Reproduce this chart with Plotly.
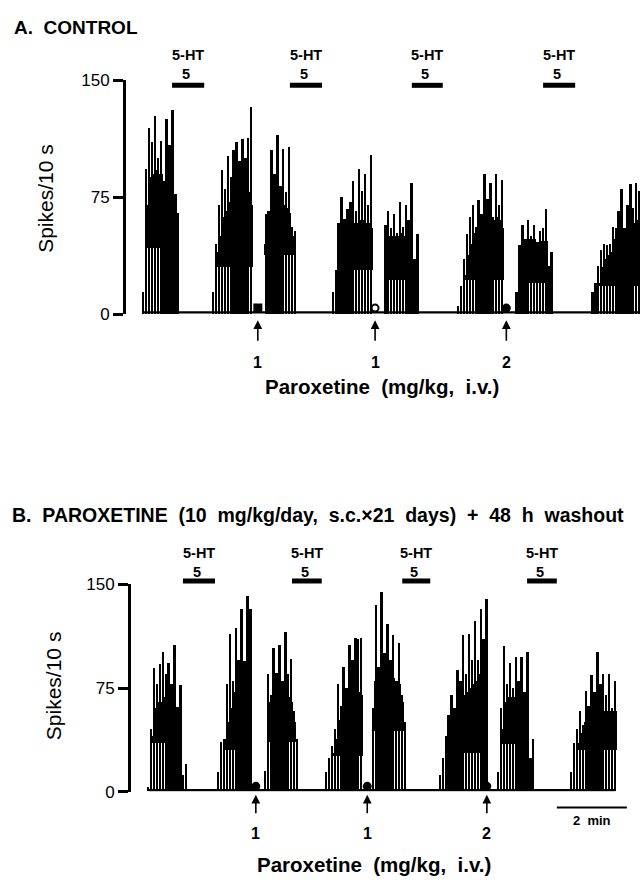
import plotly.graph_objects as go

W, H = 640, 887
BIN = 5  # seconds between successive ratemeter samples
FONT = "Liberation Sans, Arial, Helvetica, sans-serif"
INK = "#000000"

# ---------------- Panel A : CONTROL ----------------
A_starts = [30, 150, 240, 355, 445, 570, 670, 800]          # burst onset (s)
A_peaks = [
    [14, 93, 119, 110, 127, 100, 111, 85, 125, 108, 131, 77, 65],
    [14, 45, 70, 92, 80, 101, 88, 105, 110, 98, 112, 100, 113, 133],
    [64, 66, 105, 90, 115, 82, 106, 78, 107, 56, 53],
    [14, 28, 58, 75, 61, 67, 72, 85, 66, 93, 79, 90, 70, 102],
    [57, 66, 55, 64, 52, 72, 56, 70, 60, 84, 35, 51],
    [5, 18, 35, 51, 62, 70, 56, 73, 64, 90, 74, 84, 62, 90, 70, 86],
    [14, 44, 57, 45, 60, 50, 57, 46, 53, 55, 67, 31, 40],
    [14, 20, 31, 41, 45, 44, 45, 56, 55, 66, 80, 55, 70, 83, 68, 84, 79],
]
A_band_top = [
    [0, 70, 88, 90, 92, 88, 90, 85, 88, 85, 86, 70, 0],
    [0, 40, 50, 62, 66, 70, 72, 75, 75, 75, 78, 75, 78, 70],
    [45, 60, 70, 72, 72, 70, 70, 68, 65, 50, 0],
    [0, 0, 40, 50, 52, 55, 57, 58, 58, 60, 60, 58, 58, 55],
    [45, 50, 50, 50, 50, 52, 50, 50, 50, 50, 35, 0],
    [0, 0, 25, 38, 45, 50, 52, 55, 57, 60, 60, 62, 60, 62, 60, 55],
    [0, 35, 48, 48, 48, 48, 48, 46, 47, 47, 47, 30, 0],
    [0, 0, 20, 30, 35, 38, 40, 45, 48, 50, 55, 55, 55, 58, 58, 60, 60],
]
A_band_floor = [42, 30, 38, 28, 22, 22, 20, 18]
A_baseline_t = [30, 881]
A_5ht = [(79, 134), (281, 336), (490, 543), (715, 770)]
A_inj_t = [226, 427, 652]
A_inj_sym = ["square", "circle-open", "circle"]
A_dose = ["1", "1", "2"]

# ---------------- Panel B : PAROXETINE ----------------
B_starts = [30, 150, 230, 335, 415, 530, 630, 755]
B_peaks = [
    [3, 45, 89, 78, 92, 101, 85, 93, 78, 106, 61, 77, 12, 20],
    [14, 36, 38, 78, 114, 80, 118, 95, 132, 94, 141, 132],
    [15, 85, 70, 104, 86, 106, 80, 115, 85, 96, 58, 38],
    [14, 24, 33, 45, 78, 62, 90, 75, 106, 95, 111, 110, 111],
    [60, 135, 90, 144, 100, 121, 95, 113, 80, 107, 70, 50],
    [12, 24, 40, 55, 70, 60, 88, 80, 113, 85, 114, 95, 123, 95, 132, 110, 139],
    [14, 60, 105, 78, 93, 75, 97, 80, 97, 72, 101, 24, 38],
    [14, 35, 45, 58, 48, 73, 62, 84, 72, 101, 78, 85, 70, 85, 60, 80],
]
B_band_top = [
    [0, 40, 60, 65, 65, 68, 68, 68, 66, 65, 60, 55, 0, 0],
    [0, 0, 38, 50, 60, 65, 72, 78, 80, 82, 85, 85],
    [0, 60, 65, 72, 72, 72, 70, 70, 68, 65, 50, 0],
    [0, 0, 28, 38, 45, 52, 58, 62, 68, 70, 72, 72, 70],
    [50, 80, 85, 88, 88, 85, 85, 82, 80, 78, 65, 0],
    [0, 0, 28, 40, 50, 55, 60, 65, 70, 72, 75, 78, 80, 82, 85, 85, 85],
    [0, 45, 65, 68, 68, 68, 66, 66, 65, 65, 62, 0, 0],
    [0, 25, 35, 42, 45, 50, 52, 55, 55, 56, 56, 58, 58, 58, 58, 58],
]
B_band_floor = [35, 30, 36, 26, 44, 28, 34, 30]
B_baseline_t = [30, 830]
B_5ht = [(89, 144), (276, 327), (465, 513), (679, 730)]
B_inj_t = [214, 405, 610]
B_inj_sym = ["circle", "circle", "circle"]
B_dose = ["1", "1", "2"]
SCALE_BAR_T = (730, 850)   # 2 min

Y_TICKS = [0, 75, 150]

# ---- geometry (pixel layout of the reference) ----
A_axis_px, B_axis_px = 126, 131
A_y0_px, A_y150_px = 312, 73
B_y0_px, B_y150_px = 800, 588
PX_PER_S = 35 / 60.0


def py2p(py):
    """pixel row -> paper fraction"""
    return 1 - py / H


def samples(starts, peaks):
    xs, ys = [], []
    for s, p in zip(starts, peaks):
        for i, v in enumerate(p):
            xs.append(s + BIN * i)
            ys.append(v)
    return xs, ys


def band(starts, tops, floors):
    xs, base, h = [], [], []
    for s, t, f in zip(starts, tops, floors):
        for i, v in enumerate(t):
            if v > f:
                xs.append(s + BIN * i)
                base.append(f)
                h.append(v - f)
    return xs, base, h


fig = go.Figure()
shapes = []
annotations = []


def add_panel(xa, ya, starts, peaks, tops, floors, base_t, inj_t, inj_sym):
    bx, bb, bh = band(starts, tops, floors)
    fig.add_trace(go.Bar(x=bx, y=bh, base=bb, width=BIN + 0.3, xaxis=xa, yaxis=ya,
                         marker=dict(color=INK, line=dict(width=0)), showlegend=False,
                         hoverinfo="skip"))
    sx, sy = samples(starts, peaks)
    fig.add_trace(go.Bar(x=sx, y=sy, width=3.4, xaxis=xa, yaxis=ya,
                         marker=dict(color=INK, line=dict(width=0)), showlegend=False,
                         name="Spikes/10 s"))
    fig.add_trace(go.Scatter(x=base_t, y=[1.2, 1.2], mode="lines", xaxis=xa, yaxis=ya,
                             line=dict(color=INK, width=2.2), showlegend=False,
                             hoverinfo="skip"))
    fig.add_trace(go.Scatter(x=inj_t, y=[4] * len(inj_t), mode="markers", xaxis=xa, yaxis=ya,
                             marker=dict(symbol=inj_sym, size=7, color=INK,
                                         line=dict(color=INK, width=2)),
                             cliponaxis=False, showlegend=False, hoverinfo="skip"))


def decorate(xa, ht, inj_t, dose, lab_px, bar_px, arrow_head_px, arrow_len, dose_px):
    for (t0, t1) in ht:
        shapes.append(dict(type="line", xref=xa, yref="paper", x0=t0, x1=t1,
                           y0=py2p(bar_px), y1=py2p(bar_px),
                           line=dict(color=INK, width=5)))
        tc = (t0 + t1) / 2
        annotations.append(dict(x=tc, y=py2p(lab_px), xref=xa, yref="paper",
                                xanchor="center", yanchor="middle",
                                text="<b>5-HT</b><br><b>5\u00a0</b>",
                                showarrow=False, font=dict(size=14.5, family=FONT, color=INK)))
    for t, d in zip(inj_t, dose):
        annotations.append(dict(x=t, y=py2p(arrow_head_px), xref=xa, yref="paper", text="",
                                showarrow=True, ax=0, ay=arrow_len, arrowhead=2,
                                arrowsize=1.1, arrowwidth=1.6, arrowcolor=INK))
        annotations.append(dict(x=t, y=py2p(dose_px), xref=xa, yref="paper",
                                xanchor="center", yanchor="middle", text="<b>%s</b>" % d,
                                showarrow=False, font=dict(size=16, family=FONT, color=INK)))


add_panel("x", "y", A_starts, A_peaks, A_band_top, A_band_floor, A_baseline_t,
          A_inj_t, A_inj_sym)
add_panel("x2", "y2", B_starts, B_peaks, B_band_top, B_band_floor, B_baseline_t,
          B_inj_t, B_inj_sym)
decorate("x", A_5ht, A_inj_t, A_dose, 56.5, 78, 318, 22, 361)
decorate("x2", B_5ht, B_inj_t, B_dose, 565.5, 584.5, 803, 20, 843)

# 2-min scale bar in panel B
shapes.append(dict(type="line", xref="x2", yref="paper", x0=SCALE_BAR_T[0], x1=SCALE_BAR_T[1],
                   y0=py2p(816), y1=py2p(816), line=dict(color=INK, width=2)))
annotations.append(dict(x=sum(SCALE_BAR_T) / 2, y=py2p(829), xref="x2", yref="paper",
                        xanchor="center", yanchor="middle",
                        text="<b>2\u00a0 min</b>", showarrow=False,
                        font=dict(size=13, family=FONT, color=INK)))

# titles and labels
annotations += [
    dict(x=12 / W, y=py2p(18.5), xref="paper", yref="paper", xanchor="left", yanchor="middle",
         text="<b>A.\u00a0 CONTROL</b>", showarrow=False, font=dict(size=19, family=FONT, color=INK)),
    dict(x=10 / W, y=py2p(517), xref="paper", yref="paper", xanchor="left", yanchor="middle",
         text="<b>B.\u00a0 PAROXETINE\u00a0 (10\u00a0 mg/kg/day,\u00a0 s.c.\u00d721\u00a0 days)"
              "\u00a0 +\u00a0 48\u00a0 h\u00a0 washout</b>",
         showarrow=False, font=dict(size=19.5, family=FONT, color=INK)),
    dict(x=382 / W, y=py2p(386), xref="paper", yref="paper", xanchor="center", yanchor="middle",
         text="<b>Paroxetine\u00a0 (mg/kg,\u00a0 i.v.)</b>", showarrow=False,
         font=dict(size=20.5, family=FONT, color=INK)),
    dict(x=374 / W, y=py2p(874), xref="paper", yref="paper", xanchor="center", yanchor="middle",
         text="<b>Paroxetine\u00a0 (mg/kg,\u00a0 i.v.)</b>", showarrow=False,
         font=dict(size=20.5, family=FONT, color=INK)),
    dict(x=46 / W, y=py2p(194), xref="paper", yref="paper", xanchor="center", yanchor="middle",
         text="Spikes/10 s", textangle=-90,
         showarrow=False, font=dict(size=21, family=FONT, color=INK)),
    dict(x=53 / W, y=py2p(692), xref="paper", yref="paper", xanchor="center", yanchor="middle",
         text="Spikes/10 s", textangle=-90,
         showarrow=False, font=dict(size=21, family=FONT, color=INK)),
]

yax = dict(range=[0, 150], tickvals=Y_TICKS, ticktext=[str(v) for v in Y_TICKS],
           showline=True, linewidth=3, linecolor=INK, ticks="outside", ticklen=10,
           tickwidth=2.5, tickcolor=INK, showgrid=False, zeroline=False,
           tickfont=dict(size=17, family=FONT, color=INK), fixedrange=True)

fig.update_layout(
    width=W, height=H, autosize=False,
    margin=dict(l=0, r=0, t=0, b=0, pad=0),
    paper_bgcolor="white", plot_bgcolor="white",
    barmode="overlay", bargap=0,
    xaxis=dict(domain=[A_axis_px / W, 1], range=[0, (W - A_axis_px) / PX_PER_S], visible=False,
               fixedrange=True),
    yaxis=dict(domain=[py2p(A_y0_px), py2p(A_y150_px)], anchor="x", **yax),
    xaxis2=dict(domain=[B_axis_px / W, 1], range=[0, (W - B_axis_px) / PX_PER_S], visible=False,
                anchor="y2", fixedrange=True),
    yaxis2=dict(domain=[py2p(B_y0_px), py2p(B_y150_px)], anchor="x2", **yax),
    shapes=shapes,
    annotations=annotations,
    showlegend=False,
)

fig.write_html("out.html", config={"displayModeBar": False},
               post_script="document.body.style.margin='0';document.body.style.overflow='hidden';")
